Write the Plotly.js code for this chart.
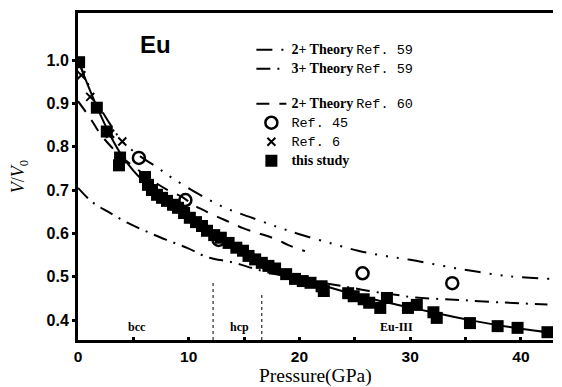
<!DOCTYPE html>
<html>
<head>
<meta charset="utf-8">
<script src="https://cdn.plot.ly/plotly-3.0.1.min.js"></script>
<style>
  html, body { margin: 0; padding: 0; background: #fff; }
  #chart { width: 562px; height: 387px; }
</style>
</head>
<body>
<div id="chart"></div>
<script>
// Eu compression: V/V0 against pressure (GPa)

// this study (filled squares)
const studyP = [0.1, 1.7, 2.6, 3.8, 3.7, 6.05, 6.32, 6.68, 7.14, 7.59, 8.04, 8.58, 9.03, 9.58, 10.1, 10.66, 11.2, 11.65,
  12.3, 12.9, 13.6, 14.3, 14.9, 15.4, 16.0, 16.6, 17.2, 17.8, 18.8, 19.6, 20.3, 21.0, 22.0, 22.2, 24.4, 24.9, 25.8, 26.3,
  27.3, 27.9, 29.8, 30.6, 32.1, 32.4, 35.4, 37.9, 39.7, 42.4];
const studyV = [0.995, 0.89, 0.835, 0.775, 0.757, 0.730, 0.712, 0.700, 0.689, 0.682, 0.675, 0.666, 0.659, 0.647, 0.636, 0.626, 0.617, 0.606,
  0.596, 0.590, 0.578, 0.567, 0.560, 0.548, 0.540, 0.532, 0.525, 0.519, 0.506, 0.495, 0.490, 0.486, 0.478, 0.467, 0.462, 0.455, 0.448, 0.440,
  0.428, 0.451, 0.428, 0.435, 0.418, 0.405, 0.393, 0.386, 0.382, 0.372];

// smooth curve through this study
const fitP = [0, 1, 2, 3, 4, 5, 6, 7, 8, 9, 10, 11, 12, 13, 14, 15, 16, 17, 18, 20, 22, 24, 26, 28, 30, 32, 34, 36, 38, 40, 43];
const fitV = [1.0, 0.935, 0.875, 0.822, 0.778, 0.745, 0.718, 0.694, 0.673, 0.655, 0.637, 0.62, 0.602, 0.585, 0.568, 0.553, 0.54, 0.528, 0.517,
  0.498, 0.481, 0.466, 0.452, 0.44, 0.429, 0.418, 0.407, 0.397, 0.388, 0.38, 0.37];

// Ref. 45 (open circles)
const ref45P = [5.5, 9.7, 12.7, 25.7, 33.8];
const ref45V = [0.774, 0.677, 0.585, 0.508, 0.485];

// Ref. 6 (crosses)
const ref6P = [0.3, 1.1, 2.9, 4.0];
const ref6V = [0.965, 0.915, 0.83, 0.812];

// 2+ theory, Ref. 59
const th2p59P = [0, 1, 2, 3, 4, 5.5, 7.1, 8.5, 10.75, 13.1, 15.5, 18, 20, 23, 25.3, 27.5, 30, 34.5, 39, 42.6];
const th2p59V = [1.0, 0.94, 0.89, 0.848, 0.812, 0.78, 0.753, 0.728, 0.693, 0.661, 0.638, 0.615, 0.598, 0.576, 0.56, 0.549, 0.539, 0.518, 0.501, 0.495];

// 3+ theory, Ref. 59
const th3p59P = [0, 1.3, 2.7, 4.5, 6.3, 8.0, 9.9, 11.7, 14, 16, 18, 21.2, 24.4, 26.6, 28.5, 30.5, 34, 38, 42.4];
const th3p59V = [0.705, 0.672, 0.65, 0.624, 0.603, 0.585, 0.566, 0.545, 0.533, 0.518, 0.505, 0.49, 0.476, 0.466, 0.459, 0.452, 0.447, 0.441, 0.436];

// 2+ theory, Ref. 60
const th2p60P = [0, 1.1, 2, 3, 4, 5.5, 7, 8.1, 9.4, 10.4, 11.3, 12.6, 13.7, 14.9, 16.2, 17.1, 18.1, 19, 20.5];
const th2p60V = [0.905, 0.866, 0.83, 0.80, 0.775, 0.745, 0.717, 0.70, 0.684, 0.666, 0.654, 0.638, 0.626, 0.612, 0.601, 0.594, 0.584, 0.573, 0.559];

// phase regions
const phaseBounds = [12.2, 16.6];
const phaseTops = [0.492, 0.458];
const phaseNames = ['bcc', 'hcp', 'Eu-III'];
const phaseLabelP = [5.3, 14.6, 28.8];

const ink = '#000';
const serif = 'Liberation Serif, Times New Roman, serif';
const mono = 'Liberation Mono, Courier New, monospace';
const sans = 'Liberation Sans, Arial, sans-serif';

// legend entry: bold serif theory name followed by a typewriter reference tag
function label(theory, ref) {
  return (theory ? '<span style="font-size:14px"><b>' + theory + '</b></span> ' : '') +
    '<span style="font-family:' + mono + ';font-size:13.5px">' + ref + '</span>';
}

const traces = [
  {
    x: th2p59P, y: th2p59V, mode: 'lines', type: 'scatter',
    name: label('2+ Theory', 'Ref. 59'), legendgroup: 'g1', legendrank: 1,
    line: { color: ink, width: 2, shape: 'spline', dash: '16px,9px,2px,9px,2px,9px,2px,9px' }
  },
  {
    x: th3p59P, y: th3p59V, mode: 'lines', type: 'scatter',
    name: label('3+ Theory', 'Ref. 59'), legendgroup: 'g1', legendrank: 2,
    line: { color: ink, width: 2, shape: 'spline', dash: '14px,7px,2px,7px' }
  },
  {
    x: th2p60P, y: th2p60V, mode: 'lines', type: 'scatter',
    name: label('2+ Theory', 'Ref. 60'), legendgroup: 'g2', legendrank: 3,
    line: { color: ink, width: 2, shape: 'spline', dash: '13px,10px' }
  },
  {
    x: fitP, y: fitV, mode: 'lines', type: 'scatter', showlegend: false,
    line: { color: ink, width: 2, shape: 'spline' }
  },
  {
    x: studyP, y: studyV, mode: 'markers', type: 'scatter',
    name: '<span style="font-size:14px"><b>this study</b></span>', legendgroup: 'g2', legendrank: 6,
    marker: { symbol: 'square', size: 12, color: ink }
  },
  {
    x: ref6P, y: ref6V, mode: 'markers', type: 'scatter',
    name: label('', 'Ref. 6'), legendgroup: 'g2', legendrank: 5,
    marker: { symbol: 'x-thin-open', size: 8, color: ink, line: { color: ink, width: 2 } }
  },
  {
    x: ref45P, y: ref45V, mode: 'markers', type: 'scatter',
    name: label('', 'Ref. 45'), legendgroup: 'g2', legendrank: 4,
    marker: { symbol: 'circle-open', size: 12, color: ink, line: { color: ink, width: 2.5 } }
  }
];

const shapes = phaseBounds.map((p, i) => ({
  type: 'line', xref: 'x', yref: 'y',
  x0: p, x1: p, y0: 0.354, y1: phaseTops[i],
  line: { color: ink, width: 1, dash: 'dot' }
}));

const annotations = phaseNames.map((n, i) => ({
  x: phaseLabelP[i], y: 0.384, xref: 'x', yref: 'y',
  text: '<b>' + n + '</b>', showarrow: false,
  font: { family: serif, size: 12, color: ink }
}));
annotations.push({
  x: 7.0, y: 1.035, xref: 'x', yref: 'y', text: '<b>Eu</b>', showarrow: false,
  font: { family: sans, size: 24, color: ink }
});
// pressure axis title, set just below the tick numbers
annotations.push({
  x: 0.5, y: -0.109, xref: 'paper', yref: 'paper', xanchor: 'center', yanchor: 'middle',
  text: 'Pressure(GPa)', showarrow: false, height: 22, borderpad: 0,
  font: { family: serif, size: 19.5, color: ink }
});

const layout = {
  width: 562, height: 387,
  margin: { l: 78, r: 9, t: 13, b: 47 },
  paper_bgcolor: '#fff', plot_bgcolor: '#fff',
  showlegend: true,
  legend: {
    x: 0.365, y: 0.932, xanchor: 'left', yanchor: 'top',
    bgcolor: 'rgba(0,0,0,0)', traceorder: 'grouped', tracegroupgap: 16,
    font: { family: serif, size: 12, color: ink }
  },
  xaxis: {
    range: [0, 42.9], showgrid: false, zeroline: false,
    showline: true, linecolor: ink, linewidth: 3, mirror: true,
    tickvals: [0, 10, 20, 30, 40], ticks: 'inside', ticklen: 3, tickwidth: 3, tickcolor: ink,
    minor: { tickvals: [5, 15, 25, 35], ticks: 'inside', ticklen: 3, tickwidth: 3, tickcolor: ink },
    tickfont: { family: sans, size: 15.5, color: ink, weight: 'bold' }
  },
  yaxis: {
    range: [0.354, 1.1085], showgrid: false, zeroline: false,
    showline: true, linecolor: ink, linewidth: 3, mirror: false,
    tickvals: [0.4, 0.5, 0.6, 0.7, 0.8, 0.9, 1.0], tickformat: '.1f',
    ticks: 'outside', ticklen: 3, tickwidth: 3, tickcolor: ink,
    tickfont: { family: sans, size: 16, color: ink, weight: 'bold' },
    title: { text: '<i>V</i>/<i>V</i><sub>0</sub>', font: { family: serif, size: 18, color: ink }, standoff: 18 }
  },
  shapes: shapes,
  annotations: annotations
};

Plotly.newPlot('chart', traces, layout, { displayModeBar: false, staticPlot: true });
</script>
</body>
</html>
